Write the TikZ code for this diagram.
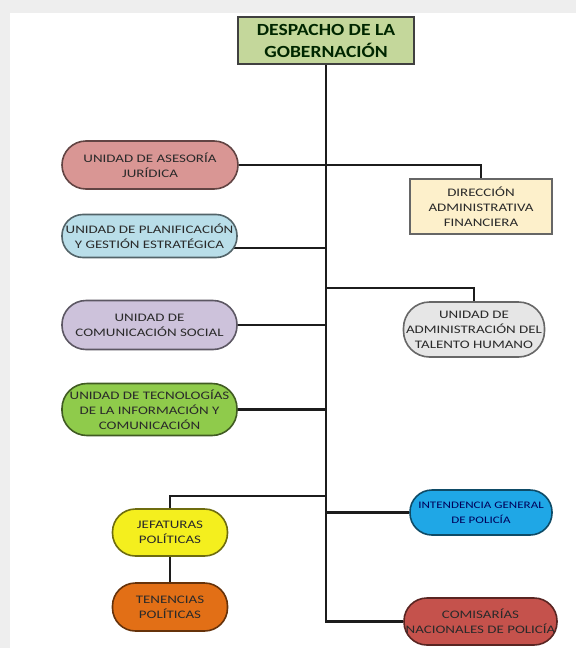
\documentclass[tikz,border=0pt]{standalone}
\usepackage{fontspec}
\newfontfamily\lblfont[FakeStretch=1.3]{Carlito}
\newfontfamily\ttlfont[FakeStretch=1.15]{Carlito}
\usetikzlibrary{backgrounds}
\definecolor{cDesp}{HTML}{C4D79B}
\definecolor{cAses}{HTML}{D99694}
\definecolor{cDir}{HTML}{FDF0CB}
\definecolor{cPlan}{HTML}{B9DEE9}
\definecolor{cComu}{HTML}{CDC2DB}
\definecolor{cTal}{HTML}{E6E6E6}
\definecolor{cTec}{HTML}{8FCB4B}
\definecolor{cJef}{HTML}{F4EF1E}
\definecolor{cTen}{HTML}{E26F16}
\definecolor{cInt}{HTML}{1FA7E6}
\definecolor{cCom}{HTML}{C5524C}
\definecolor{cTxt}{HTML}{2A2A2A}
\definecolor{cLine}{HTML}{1C1C1C}
\begin{document}
\begin{tikzpicture}[x=1pt,y=-1pt,
  pill/.style n args={4}{draw=#4!45!black, fill=#4, line width=1.6pt,
     rectangle, rounded corners=#3, inner sep=0pt,
     minimum width=#1, minimum height=#2, align=center, text=cTxt,
     font=\lblfont\fontsize{11.5}{15}\selectfont},
  sqbox/.style n args={3}{draw=#3!40!black, fill=#3, line width=1.6pt,
     rectangle, inner sep=0pt, minimum width=#1, minimum height=#2,
     align=center, text=cTxt, font=\lblfont\fontsize{11.5}{15}\selectfont},
  conn/.style={draw=cLine, line width=2.1pt}]
\useasboundingbox (0,0) rectangle (576,648);

\node[sqbox={176pt}{47pt}{cDesp}, draw=black!75, line width=2.4pt,
      font=\ttlfont\bfseries\fontsize{17}{22}\selectfont, text=black!85!green] (desp) at (326,40.5)
      {DESPACHO DE LA\\GOBERNACIÓN};
\node[pill={176pt}{48pt}{24pt}{cAses}] (ases) at (150,165) {UNIDAD DE ASESORÍA\\JURÍDICA};
\node[sqbox={142pt}{55pt}{cDir}, draw=black!60] (dir) at (481,206.5) {DIRECCIÓN\\ADMINISTRATIVA\\FINANCIERA};
\node[pill={175pt}{43pt}{21pt}{cPlan}] (plan) at (149.5,236) {UNIDAD DE PLANIFICACIÓN\\Y GESTIÓN ESTRATÉGICA};
\node[pill={175pt}{49pt}{24pt}{cComu}] (comu) at (149.5,325) {UNIDAD DE\\COMUNICACIÓN SOCIAL};
\node[pill={141pt}{55pt}{26pt}{cTal}] (tal) at (474,329.5) {UNIDAD DE\\ADMINISTRACIÓN DEL\\TALENTO HUMANO};
\node[pill={175pt}{52pt}{25pt}{cTec}] (tec) at (149.5,409.5) {UNIDAD DE TECNOLOGÍAS\\DE LA INFORMACIÓN Y\\COMUNICACIÓN};
\node[pill={142pt}{45pt}{22pt}{cInt}, text=blue!35!black, font=\lblfont\fontsize{10}{15}\selectfont] (inte) at (481,512.5) {INTENDENCIA GENERAL\\DE POLICÍA};
\node[pill={115pt}{47pt}{23pt}{cJef}] (jef) at (170,532.5) {JEFATURAS\\POLÍTICAS};
\node[pill={115pt}{48pt}{23pt}{cTen}] (ten) at (170,607) {TENENCIAS\\POLÍTICAS};
\node[pill={153pt}{47pt}{23pt}{cCom}] (comis) at (480.5,621.5) {COMISARÍAS\\NACIONALES DE POLICÍA};

\begin{scope}[on background layer]
\fill[gray!13] (0,0) rectangle (576,648);
\fill[white] (10,13) rectangle (576,648);
\coordinate (spB) at (desp.south |- comis.west);
\draw[conn] (desp.south) -- (spB) -- (comis.west);
\draw[conn] (ases.east) -- (ases.east -| dir.north) -- (dir.north);
\coordinate (jplan) at (desp.south |- 0,248);
\draw[conn] (jplan) -- (jplan -| plan.center);
\draw[conn] (comu.east) -- (comu.east -| desp.south);
\draw[conn] (tec.east) -- (tec.east -| desp.south);
\coordinate (jtal) at (desp.south |- 0,288);
\draw[conn] (jtal) -- (jtal -| tal.north) -- (tal.north);
\draw[conn] (inte.west) -- (inte.west -| desp.south);
\coordinate (jjef) at (desp.south |- 0,496);
\draw[conn] (jjef) -- (jjef -| jef.north) -- (jef.north);
\draw[conn] (jef.south) -- (ten.north);
\end{scope}
\end{tikzpicture}
\end{document}
